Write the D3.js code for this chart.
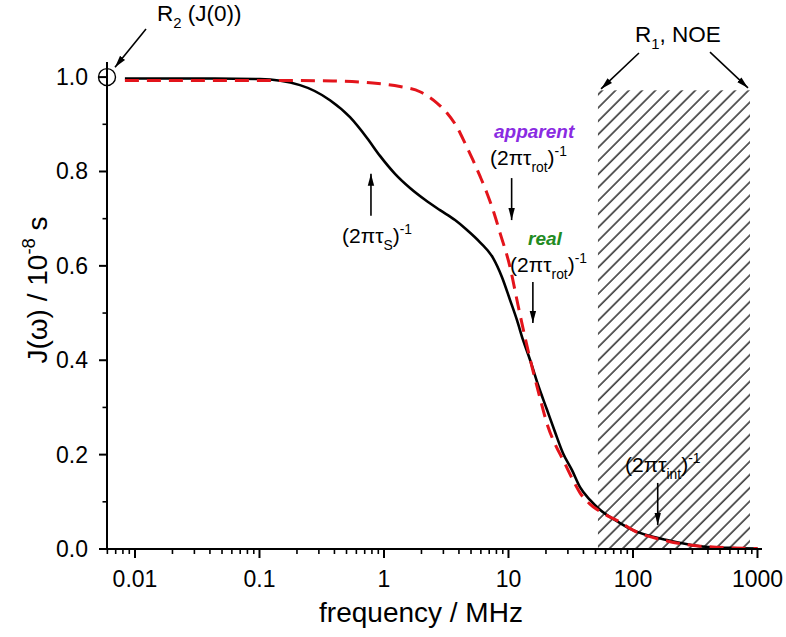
<!DOCTYPE html>
<html><head><meta charset="utf-8">
<script src="https://cdn.jsdelivr.net/npm/d3@7"></script>
<style>body{margin:0;background:#fff}svg{display:block}text{font-family:"Liberation Sans",Arial,sans-serif}</style>
</head><body><svg id="c" width="786" height="637"></svg>
<script>
// ---- data (frequency in MHz, J in 1e-8 s) ----
const realFreq = [0.0083,0.03,0.1009,0.2115,0.3684,0.5333,0.7306,0.929,1.226,1.618,2.135,2.818,3.72,4.644,5.905,7.508,8.87,10.28,11.7,13.08,14.89,17.26,20.39,23.64,27.41,32.37,37.53,45.15,54.33,78.66,100,187.6,345.4,636,1000];
const realJ    = [0.997,0.997,0.996,0.983,0.951,0.915,0.871,0.833,0.795,0.765,0.740,0.718,0.697,0.676,0.650,0.617,0.576,0.528,0.485,0.443,0.401,0.348,0.295,0.248,0.203,0.167,0.131,0.104,0.083,0.055,0.040,0.019,0.006,0.002,0.001];
const appFreq  = [0.0083,0.1,0.3895,0.772,1.345,1.946,2.666,3.208,3.858,4.475,5.188,5.905,6.72,7.65,8.55,10.28,11.92,13.57,15.45,17.91,20.77,24.08,27.41,32.37,37.53,45.15,57.43,78.66,100,187.6,345.4,1000];
const appJ     = [0.993,0.993,0.992,0.988,0.980,0.969,0.945,0.924,0.894,0.860,0.824,0.790,0.754,0.712,0.670,0.598,0.517,0.449,0.386,0.320,0.259,0.218,0.189,0.150,0.119,0.095,0.076,0.057,0.040,0.017,0.006,0.001];
const xTicks = [0.01,0.1,1,10,100,1000];
const xTickLabels = ["0.01","0.1","1","10","100","1000"];
const yTicks = [0,0.2,0.4,0.6,0.8,1.0];
const yTickLabels = ["0.0","0.2","0.4","0.6","0.8","1.0"];
const hatchRange = [52.3, 870];
const hatchTop = 0.972;
const xDomain = [0.00596, 1087];
const yDomain = [0, 1.032];

const svg = d3.select("#c");
const x = d3.scaleLog().domain(xDomain).range([107, 762]);
const y = d3.scaleLinear().domain(yDomain).range([549, 62]);

// defs
const defs = svg.append("defs");
const pat = defs.append("pattern").attr("id","hatch").attr("patternUnits","userSpaceOnUse")
  .attr("width",9.4).attr("height",9.4).attr("patternTransform","rotate(45)");
pat.append("line").attr("x1",1).attr("y1",0).attr("x2",1).attr("y2",9.4).attr("stroke","#000").attr("stroke-width",1.25);
defs.append("marker").attr("id","ah").attr("viewBox","0 0 12 8").attr("refX",12).attr("refY",4)
  .attr("markerWidth",12).attr("markerHeight",8).attr("markerUnits","userSpaceOnUse").attr("orient","auto")
  .append("path").attr("d","M0,0.8 L12,4 L0,7.2 Z").attr("fill","#000");

// hatched region
svg.append("rect").attr("x",x(hatchRange[0])).attr("y",y(hatchTop))
  .attr("width",x(hatchRange[1])-x(hatchRange[0])).attr("height",y(0)-y(hatchTop))
  .attr("fill","url(#hatch)");

// curves
const line = d3.line().x(d=>x(d[0])).y(d=>y(d[1])).curve(d3.curveMonotoneX);
svg.append("path").datum(realFreq.map((f,i)=>[f,realJ[i]])).attr("d",line)
  .attr("fill","none").attr("stroke","#000").attr("stroke-width",2.6);
svg.append("path").datum(appFreq.map((f,i)=>[f,appJ[i]])).attr("d",line)
  .attr("fill","none").attr("stroke","#e3141b").attr("stroke-width",3).attr("stroke-dasharray","14,8");

// axes
const xMinor = [];
for (let e=-3;e<=3;e++) for (let k=2;k<=9;k++){const v=k*Math.pow(10,e); if(v>=xDomain[0]&&v<=xDomain[1]) xMinor.push(v);}
const gx = svg.append("g").attr("transform","translate(0,549)");
gx.append("line").attr("x1",106).attr("x2",762).attr("stroke","#000").attr("stroke-width",2);
gx.selectAll(".mj").data(xTicks).join("line").attr("x1",d=>x(d)).attr("x2",d=>x(d)).attr("y1",0).attr("y2",9).attr("stroke","#000").attr("stroke-width",2);
gx.selectAll(".mn").data(xMinor).join("line").attr("x1",d=>x(d)).attr("x2",d=>x(d)).attr("y1",0).attr("y2",5).attr("stroke","#000").attr("stroke-width",1.6);
gx.selectAll("text").data(xTicks).join("text").attr("x",d=>x(d)).attr("y",38).attr("text-anchor","middle")
  .attr("font-size",23).text((d,i)=>xTickLabels[i]);

const yMinor = d3.range(0.1,1.0,0.2);
const gy = svg.append("g").attr("transform","translate(107,0)");
gy.append("line").attr("y1",550).attr("y2",y(yDomain[1])).attr("stroke","#000").attr("stroke-width",2);
gy.selectAll(".mj").data(yTicks).join("line").attr("y1",d=>y(d)).attr("y2",d=>y(d)).attr("x1",0).attr("x2",-8).attr("stroke","#000").attr("stroke-width",2);
gy.selectAll(".mn").data(yMinor).join("line").attr("y1",d=>y(d)).attr("y2",d=>y(d)).attr("x1",0).attr("x2",-4.5).attr("stroke","#000").attr("stroke-width",1.6);
gy.selectAll("text").data(yTicks).join("text").attr("x",-19).attr("y",d=>y(d)+8).attr("text-anchor","end")
  .attr("font-size",23).text((d,i)=>yTickLabels[i]);

// rich text helper
function rich(px, py, parts, size, opts={}) {
  const t = svg.append("text").attr("x",px).attr("y",py).attr("font-size",size);
  if (opts.anchor) t.attr("text-anchor",opts.anchor);
  if (opts.fill) t.attr("fill",opts.fill);
  if (opts.weight) t.attr("font-weight",opts.weight);
  if (opts.style) t.attr("font-style",opts.style);
  if (opts.transform) t.attr("transform",opts.transform);
  let cur = 0;
  parts.forEach(p=>{
    const s = t.append("tspan").text(p.t);
    let target = 0;
    if (p.sub) { s.attr("font-size",size*0.66); target = size*0.32; }
    if (p.sup) { s.attr("font-size",size*0.66); target = -size*0.42; }
    s.attr("dy", target-cur); cur = target;
  });
  return t;
}
function arrow(f1,j1,f2,j2){
  svg.append("line").attr("x1",x(f1)).attr("y1",y(j1)).attr("x2",x(f2)).attr("y2",y(j2))
    .attr("stroke","#000").attr("stroke-width",1.6).attr("marker-end","url(#ah)");
}

// axis titles
rich(421, 622, [{t:"frequency / MHz"}], 28, {anchor:"middle"});
rich(0, 0, [{t:"J(ω) / 10"},{t:"-8",sup:true},{t:" s"}], 28, {anchor:"middle", transform:"translate(47,290) rotate(-90)"});

// annotations
svg.append("circle").attr("cx",x(xDomain[0])).attr("cy",y(1.0)).attr("r",8.5).attr("fill","none").attr("stroke","#000").attr("stroke-width",1.4);
rich(x(0.01503), y(1.119), [{t:"R"},{t:"2",sub:true},{t:" (J(0))"}], 22.5);
arrow(0.01226,1.102,0.00691,1.021);

rich(x(0.46), y(0.648), [{t:"(2πτ"},{t:"S",sub:true},{t:")"},{t:"-1",sup:true}], 21);
arrow(0.786,0.706,0.786,0.795);

rich(x(7.65), y(0.871), [{t:"apparent"}], 19, {fill:"#8a2be2", weight:"bold", style:"italic"});
rich(x(7.1), y(0.814), [{t:"(2πτ"},{t:"rot",sub:true},{t:")"},{t:"-1",sup:true}], 21);
arrow(10.6,0.786,10.6,0.697);

rich(x(14.35), y(0.644), [{t:"real"}], 19, {fill:"#228b22", weight:"bold", style:"italic"});
rich(x(10.3), y(0.587), [{t:"(2πτ"},{t:"rot",sub:true},{t:")"},{t:"-1",sup:true}], 21);
arrow(15.7,0.566,15.7,0.479);

rich(x(86.3), y(0.163), [{t:"(2πτ"},{t:"int",sub:true},{t:")"},{t:"-1",sup:true}], 21);
arrow(158,0.140,158,0.051);

rich(x(103.8), y(1.074), [{t:"R"},{t:"1",sub:true},{t:", NOE"}], 22.5);
arrow(111.7,1.051,55.4,0.975);
arrow(415.6,1.053,839,0.977);
</script></body></html>
